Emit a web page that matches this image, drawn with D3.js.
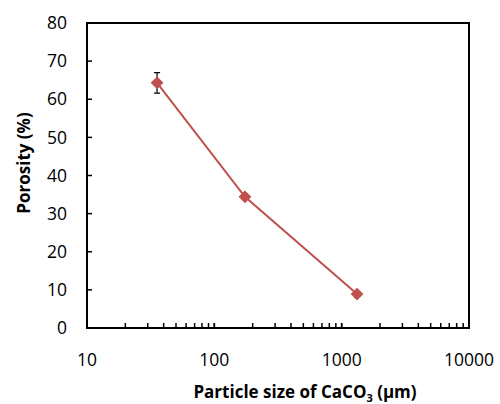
<!DOCTYPE html>
<html lang="en">
<head>
    <meta charset="UTF-8">
    <title>Porosity vs particle size</title>
    <script src="https://d3js.org/d3.v7.min.js"></script>
    <style>
        body { margin: 0; background: #fff; }
        text { font-family: "Open Sans", "Liberation Sans", sans-serif; fill: #000; }
        .tick-label { font-size: 17.5px; }
        .axis-label { font-size: 17px; font-weight: bold; }
    </style>
</head>
<body>
    <svg width="500" height="404"></svg>
    <script>
        // data
        const sizes = [35.5, 174, 1320];
        const porosity = [64.3, 34.4, 8.9];
        const errors = [2.7, 0, 0];
        const xTicks = [10, 100, 1000, 10000];
        const yTicks = [0, 10, 20, 30, 40, 50, 60, 70, 80];

        const margin = { top: 23, right: 31, bottom: 76, left: 87 };
        const width = 500 - margin.left - margin.right;
        const height = 404 - margin.top - margin.bottom;
        const red = "#C0504D";

        const svg = d3.select("svg")
            .append("g")
            .attr("transform", `translate(${margin.left},${margin.top})`);

        const x = d3.scaleLog().domain([10, 10000]).range([0, width]);
        const y = d3.scaleLinear().domain([0, 80]).range([height, 0]);

        // plot frame
        svg.append("rect")
            .attr("width", width)
            .attr("height", height)
            .attr("fill", "none")
            .attr("stroke", "#000")
            .attr("stroke-width", 2);

        // y ticks, inward
        svg.selectAll(".ytick")
            .data(yTicks)
            .enter()
            .append("line")
            .attr("x1", 0).attr("x2", 5)
            .attr("y1", d => y(d)).attr("y2", d => y(d))
            .attr("stroke", "#000").attr("stroke-width", 1.5);

        svg.selectAll(".ylab")
            .data(yTicks)
            .enter()
            .append("text")
            .attr("class", "tick-label")
            .attr("x", -20)
            .attr("y", d => y(d))
            .attr("dy", "0.35em")
            .attr("text-anchor", "end")
            .text(d => d);

        // x minor ticks, inward
        const minor = [];
        for (let dec = 10; dec < 10000; dec *= 10) {
            for (let k = 1; k <= 10; k++) minor.push(dec * k);
        }
        svg.selectAll(".xtick")
            .data(minor)
            .enter()
            .append("line")
            .attr("x1", d => x(d)).attr("x2", d => x(d))
            .attr("y1", height).attr("y2", height - 5)
            .attr("stroke", "#000").attr("stroke-width", 1.5);

        svg.selectAll(".xlab")
            .data(xTicks)
            .enter()
            .append("text")
            .attr("class", "tick-label")
            .attr("x", d => x(d))
            .attr("y", height + 38)
            .attr("text-anchor", "middle")
            .text(d => d);

        const pts = sizes.map((s, i) => ({ s: s, p: porosity[i], e: errors[i] }));

        // line
        svg.append("path")
            .datum(pts)
            .attr("fill", "none")
            .attr("stroke", red)
            .attr("stroke-width", 2)
            .attr("d", d3.line().x(d => x(d.s)).y(d => y(d.p)));

        // error bars
        const eb = pts.filter(d => d.e > 0);
        svg.selectAll(".err")
            .data(eb)
            .enter()
            .append("path")
            .attr("fill", "none")
            .attr("stroke", "#000")
            .attr("stroke-width", 1.2)
            .attr("d", d => {
                const cx = x(d.s), t = y(d.p + d.e), b = y(d.p - d.e);
                return `M${cx},${t}V${b}M${cx - 3},${t}H${cx + 3}M${cx - 3},${b}H${cx + 3}`;
            });

        // diamond markers
        svg.selectAll(".pt")
            .data(pts)
            .enter()
            .append("path")
            .attr("transform", d => `translate(${x(d.s)},${y(d.p)}) rotate(45)`)
            .attr("d", "M-4,-4H4V4H-4Z")
            .attr("fill", red)
            .attr("stroke", red)
            .attr("stroke-width", 1);

        // axis titles
        const xt = svg.append("text")
            .attr("class", "axis-label")
            .attr("x", 218)
            .attr("y", height + 70)
            .attr("text-anchor", "middle");
        xt.append("tspan").text("Particle size of CaCO");
        xt.append("tspan").attr("font-size", "11px").attr("dy", 4).text("3");
        xt.append("tspan").attr("dy", -4).text(" (µm)");

        svg.append("text")
            .attr("class", "axis-label")
            .attr("transform", "rotate(-90)")
            .attr("x", -140)
            .attr("y", -57)
            .attr("text-anchor", "middle")
            .text("Porosity (%)");
    </script>
</body>
</html>
